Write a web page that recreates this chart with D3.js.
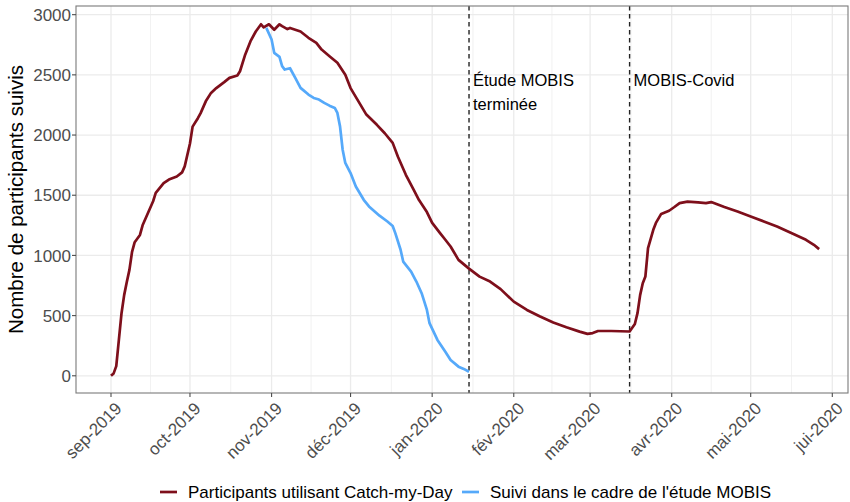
<!DOCTYPE html>
<html>
<head>
<meta charset="utf-8">
<script src="https://cdn.jsdelivr.net/npm/d3@7"></script>
<style>
  body { margin: 0; background: #fff; }
  text { font-family: "Liberation Sans", Arial, sans-serif; }
</style>
</head>
<body>
<div id="chart"></div>
<script>
// data
var redDates = ["2019-09-01","2019-09-02","2019-09-03","2019-09-04","2019-09-05","2019-09-06","2019-09-07","2019-09-08","2019-09-09","2019-09-10",
  "2019-09-12","2019-09-13","2019-09-15","2019-09-17","2019-09-18","2019-09-21","2019-09-23","2019-09-26","2019-09-28","2019-09-29",
  "2019-10-01","2019-10-02","2019-10-04","2019-10-05","2019-10-07","2019-10-09","2019-10-11","2019-10-14","2019-10-16","2019-10-19",
  "2019-10-20","2019-10-22","2019-10-24","2019-10-26","2019-10-28","2019-10-29","2019-10-31","2019-11-02","2019-11-04","2019-11-05",
  "2019-11-07","2019-11-08","2019-11-12","2019-11-15","2019-11-18","2019-11-20","2019-11-23","2019-11-26","2019-11-29","2019-12-01",
  "2019-12-04","2019-12-07","2019-12-11","2019-12-14","2019-12-17","2019-12-19","2019-12-22","2019-12-25","2019-12-27","2019-12-30",
  "2020-01-01","2020-01-04","2020-01-06","2020-01-08","2020-01-11","2020-01-15","2020-01-19","2020-01-23","2020-01-27","2020-02-01",
  "2020-02-06","2020-02-11","2020-02-16","2020-02-21","2020-02-26","2020-02-29","2020-03-02","2020-03-04","2020-03-09","2020-03-16",
  "2020-03-18","2020-03-19","2020-03-20","2020-03-21","2020-03-22","2020-03-23","2020-03-25","2020-03-26","2020-03-28","2020-03-31",
  "2020-04-02","2020-04-04","2020-04-07","2020-04-11","2020-04-14","2020-04-16","2020-04-21","2020-04-26","2020-05-01","2020-05-06",
  "2020-05-11","2020-05-16","2020-05-22","2020-05-25","2020-05-27"];
var redValues = [0,20,80,300,520,670,780,880,1030,1110,
  1170,1250,1350,1450,1520,1600,1630,1655,1690,1740,
  1930,2070,2140,2180,2280,2350,2390,2440,2475,2495,
  2530,2670,2780,2860,2920,2895,2920,2875,2920,2905,
  2880,2890,2860,2808,2766,2710,2655,2600,2500,2390,
  2280,2170,2085,2015,1935,1820,1670,1545,1460,1360,
  1270,1185,1130,1074,963,890,824,783,720,616,
  547,492,442,403,367,348,355,372,372,368,
  430,520,670,769,825,1060,1213,1270,1345,1371,
  1402,1435,1447,1440,1435,1443,1402,1365,1324,1282,
  1240,1190,1130,1088,1052];

var blueDates = ["2019-10-30","2019-11-01","2019-11-02","2019-11-04","2019-11-05","2019-11-06","2019-11-08","2019-11-10","2019-11-12","2019-11-15",
  "2019-11-17","2019-11-19","2019-11-21","2019-11-23","2019-11-25","2019-11-26","2019-11-27","2019-11-28","2019-11-29","2019-12-01",
  "2019-12-03","2019-12-06","2019-12-08","2019-12-12","2019-12-15","2019-12-17","2019-12-18","2019-12-20","2019-12-21","2019-12-24",
  "2019-12-26","2019-12-28","2019-12-30","2019-12-31","2020-01-03","2020-01-06","2020-01-08","2020-01-11","2020-01-13","2020-01-15"];
var blueValues = [2890,2794,2683,2650,2572,2544,2555,2475,2392,2336,
  2308,2295,2267,2244,2225,2184,2072,1878,1768,1684,
  1573,1462,1407,1330,1282,1245,1185,1047,949,866,
  783,686,547,437,298,200,131,76,57,34];

var monthTicks = ["2019-09-01","2019-10-01","2019-11-01","2019-12-01","2020-01-01","2020-02-01","2020-03-01","2020-04-01","2020-05-01","2020-06-01"];
var tickLabels = ["sep-2019","oct-2019","nov-2019","déc-2019","jan-2020","fév-2020","mar-2020","avr-2020","mai-2020","jui-2020"];
var yTicks = [0, 500, 1000, 1500, 2000, 2500, 3000];

var eventDates = ["2020-01-15", "2020-03-16"];
var eventLabels = [["Étude MOBIS", "terminée"], ["MOBIS-Covid"]];

var seriesNames = ["Participants utilisant Catch-my-Day", "Suivi dans le cadre de l'étude MOBIS"];
var seriesColors = ["#7e0f1b", "#55a9fa"];

var margin = {top: 6, right: 2, bottom: 109, left: 76},
  width = 850 - margin.left - margin.right,
  height = 502 - margin.top - margin.bottom;

var parse = d3.utcParse("%Y-%m-%d");

const svg = d3.select("#chart")
  .append("svg")
    .attr("width", 850)
    .attr("height", 502);

const g = svg.append("g")
  .attr("transform", `translate(${margin.left}, ${margin.top})`);

// scales
var x = d3.scaleUtc()
  .domain([parse("2019-09-01"), parse("2020-06-01")])
  .range([35, 756.3]);
var y = d3.scaleLinear()
  .domain([-143, 3072])
  .range([height, 0]);

var ticks = monthTicks.map(parse);

// grid: minor (mid-month) then major
var minor = d3.pairs(ticks).map(p => new Date((p[0].getTime() + p[1].getTime()) / 2));
g.selectAll(".minor")
  .data(minor).enter().append("line")
    .attr("x1", d => x(d)).attr("x2", d => x(d))
    .attr("y1", 0).attr("y2", height)
    .attr("stroke", "#ebebeb").attr("stroke-width", 0.7);
g.selectAll(".vmajor")
  .data(ticks).enter().append("line")
    .attr("x1", d => x(d)).attr("x2", d => x(d))
    .attr("y1", 0).attr("y2", height)
    .attr("stroke", "#ebebeb").attr("stroke-width", 1.3);
g.selectAll(".hmajor")
  .data(yTicks).enter().append("line")
    .attr("x1", 0).attr("x2", width)
    .attr("y1", d => y(d)).attr("y2", d => y(d))
    .attr("stroke", "#ebebeb").attr("stroke-width", 1.3);

// event lines
g.selectAll(".event")
  .data(eventDates).enter().append("line")
    .attr("x1", d => x(parse(d))).attr("x2", d => x(parse(d)))
    .attr("y1", 0).attr("y2", height)
    .attr("stroke", "#222").attr("stroke-width", 1.4)
    .attr("stroke-dasharray", "4.5,3.5");

eventDates.forEach(function(d, i) {
  var t = g.append("text")
    .attr("x", x(parse(d)) + 4)
    .attr("y", 80)
    .attr("font-size", "16.5px")
    .attr("fill", "#000");
  eventLabels[i].forEach(function(s, j) {
    t.append("tspan").attr("x", x(parse(d)) + 4).attr("dy", j == 0 ? 0 : 23.5).text(s);
  });
});

// lines
var line = d3.line()
  .x(d => x(d[0]))
  .y(d => y(d[1]));

var redData = redDates.map((d, i) => [parse(d), redValues[i]]);
var blueData = blueDates.map((d, i) => [parse(d), blueValues[i]]);

g.append("path").datum(redData)
  .attr("d", line).attr("fill", "none")
  .attr("stroke", seriesColors[0]).attr("stroke-width", 2.7)
  .attr("stroke-linejoin", "round");
g.append("path").datum(blueData)
  .attr("d", line).attr("fill", "none")
  .attr("stroke", seriesColors[1]).attr("stroke-width", 2.7)
  .attr("stroke-linejoin", "round");

// panel border
g.append("rect")
  .attr("x", 0).attr("y", 0)
  .attr("width", width).attr("height", height)
  .attr("fill", "none").attr("stroke", "#7a7a7a").attr("stroke-width", 1.1);

// x axis
var xAxisG = g.append("g")
  .attr("transform", `translate(0, ${height})`);
xAxisG.selectAll(".tick")
  .data(ticks).enter().append("line")
    .attr("x1", d => x(d)).attr("x2", d => x(d))
    .attr("y1", 0).attr("y2", 4)
    .attr("stroke", "#4d4d4d").attr("stroke-width", 1.1);
xAxisG.selectAll(".lab")
  .data(ticks).enter().append("text")
    .attr("transform", d => `translate(${x(d) + 3}, 8) rotate(-45)`)
    .attr("text-anchor", "end")
    .attr("dy", "0.72em")
    .attr("font-size", "17px")
    .attr("fill", "#4d4d4d")
    .text((d, i) => tickLabels[i]);

// y axis
var yAxisG = g.append("g");
yAxisG.selectAll(".tick")
  .data(yTicks).enter().append("line")
    .attr("x1", -4).attr("x2", 0)
    .attr("y1", d => y(d)).attr("y2", d => y(d))
    .attr("stroke", "#4d4d4d").attr("stroke-width", 1.1);
yAxisG.selectAll(".lab")
  .data(yTicks).enter().append("text")
    .attr("x", -5)
    .attr("y", d => y(d))
    .attr("dy", "0.36em")
    .attr("text-anchor", "end")
    .attr("font-size", "17px")
    .attr("fill", "#4d4d4d")
    .text(d => d);

svg.append("text")
  .attr("transform", `translate(23, ${margin.top + height / 2}) rotate(-90)`)
  .attr("text-anchor", "middle")
  .attr("font-size", "20.5px")
  .attr("fill", "#000")
  .text("Nombre de participants suivis");

// legend
var legendX = [160, 462];
var legend = svg.selectAll(".legend")
  .data(seriesNames).enter().append("g")
    .attr("transform", (d, i) => `translate(${legendX[i]}, 492)`);
legend.append("line")
  .attr("x1", 0).attr("x2", 17)
  .attr("stroke", (d, i) => seriesColors[i])
  .attr("stroke-width", 2.7);
legend.append("text")
  .attr("x", 28)
  .attr("dy", "0.36em")
  .attr("font-size", "17px")
  .attr("fill", "#000")
  .text(d => d);
</script>
</body>
</html>
